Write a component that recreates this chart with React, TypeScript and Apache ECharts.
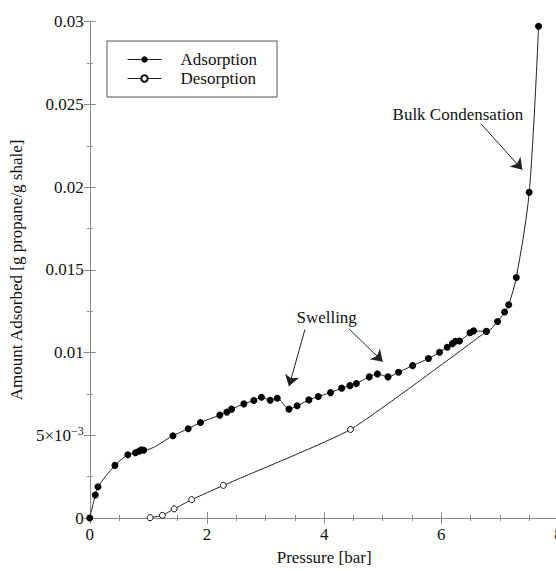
import React, { useEffect, useRef } from "react";
import * as echarts from "echarts";

const adsX = [0, 0.094, 0.14, 0.43, 0.65, 0.78, 0.84, 0.88, 0.92, 1.42, 1.68, 1.89, 2.22, 2.34, 2.42, 2.63, 2.8, 2.93, 3.08, 3.2, 3.4, 3.54, 3.74, 3.9, 4.11, 4.3, 4.44, 4.55, 4.77, 4.91, 5.09, 5.27, 5.51, 5.78, 5.97, 6.1, 6.19, 6.24, 6.31, 6.49, 6.55, 6.77, 6.96, 7.08, 7.15, 7.28, 7.5, 7.66];
const adsY = [0, 0.00139, 0.00189, 0.00318, 0.00382, 0.00394, 0.00403, 0.00413, 0.00409, 0.00497, 0.0054, 0.00577, 0.00622, 0.0064, 0.00658, 0.0069, 0.0071, 0.0073, 0.00712, 0.00724, 0.00658, 0.00678, 0.00714, 0.00734, 0.00758, 0.00785, 0.008, 0.00813, 0.00853, 0.00871, 0.00853, 0.00881, 0.00921, 0.00964, 0.01002, 0.01032, 0.01054, 0.01068, 0.0107, 0.0112, 0.01131, 0.01128, 0.01188, 0.01245, 0.01289, 0.01454, 0.01969, 0.02972];

const desX = [6.77, 4.45, 2.28, 1.74, 1.44, 1.24, 1.03];
const desY = [0.01128, 0.00535, 0.00197, 0.00111, 0.00055, 0.00016, 0.00002];

const seriesNames = ["Adsorption", "Desorption"];
const xTicks = { min: 0, max: 8, interval: 2 };
const yTicks = { min: 0, max: 0.03, interval: 0.005 };

const annotationTexts = ["Bulk Condensation", "Swelling"];
const annotationTextPos = [[6.284, 0.02439], [4.043, 0.01213]];
const arrowStarts = [[6.676, 0.02383], [3.673, 0.0114], [4.422, 0.01144]];
const arrowEnds = [[7.384, 0.02105], [3.401, 0.00796], [5.001, 0.00945]];

const FONT = "Liberation Serif";

function yLabel(v: number): string {
  if (v === 0) return "{a|0}";
  if (Math.abs(v - 0.005) < 1e-9) return "{a|5×10}{b|−3}";
  return "{a|" + String(+v.toFixed(4)) + "}";
}

export default function App() {
  const ref = useRef<HTMLDivElement>(null);
  useEffect(() => {
    if (!ref.current) return;
    const chart = echarts.init(ref.current, undefined, { renderer: "svg" });
    const axisColor = "#8a8a8a";
    const baseX = {
      type: "value",
      min: xTicks.min,
      max: xTicks.max,
      interval: xTicks.interval,
      axisLine: { show: true, lineStyle: { color: axisColor, width: 1 } },
      axisTick: { show: true, inside: true, length: 6, lineStyle: { color: axisColor } },
      minorTick: { show: true, splitNumber: 4, length: 3, lineStyle: { color: axisColor } },
      splitLine: { show: false },
    };
    const baseY = {
      type: "value",
      min: yTicks.min,
      max: yTicks.max,
      interval: yTicks.interval,
      axisLine: { show: true, lineStyle: { color: axisColor, width: 1 } },
      axisTick: { show: true, inside: true, length: 6, lineStyle: { color: axisColor } },
      minorTick: { show: true, splitNumber: 2, length: 3, lineStyle: { color: axisColor } },
      splitLine: { show: false },
    };
    chart.setOption({
      animation: false,
      backgroundColor: "#ffffff",
      textStyle: { fontFamily: FONT },
      grid: { left: 88.5, right: 41.5, top: 21.7, bottom: 46.7 },
      legend: {
        data: seriesNames,
        orient: "vertical",
        left: 107,
        top: 41,
        itemWidth: 34,
        itemHeight: 8,
        itemGap: 2,
        padding: [10, 20, 10, 20],
        borderColor: "#555",
        borderWidth: 1,
        backgroundColor: "#fff",
        lineStyle: { width: 1 },
        textStyle: { fontFamily: FONT, fontSize: 17, color: "#111", lineHeight: 17, padding: [0, 0, 0, 14] },
      },
      xAxis: [
        {
          ...baseX,
          position: "bottom",
          name: "Pressure [bar]",
          nameLocation: "middle",
          nameGap: 31,
          nameTextStyle: { fontFamily: FONT, fontSize: 17, color: "#111", verticalAlign: "top" },
          axisLabel: { show: true, margin: 8, fontFamily: FONT, fontSize: 17, color: "#111" },
        },
        { ...baseX, position: "top", axisLabel: { show: false } },
      ],
      yAxis: [
        {
          ...baseY,
          position: "left",
          name: "Amount Adsorbed [g propane/g shale]",
          nameLocation: "middle",
          nameGap: 62,
          nameTextStyle: { fontFamily: FONT, fontSize: 17, color: "#111" },
          axisLabel: {
            show: true,
            margin: 6,
            color: "#111",
            formatter: yLabel,
            rich: {
              a: { fontFamily: FONT, fontSize: 17, color: "#111", lineHeight: 20 },
              b: { fontFamily: FONT, fontSize: 12, color: "#111", verticalAlign: "top", lineHeight: 12 },
            },
          },
        },
        { ...baseY, position: "right", axisLabel: { show: false } },
      ],
      series: [
        {
          name: seriesNames[1],
          type: "line",
          xAxisIndex: 0,
          yAxisIndex: 0,
          data: desX.map((x, i) => [x, desY[i]]),
          smooth: 0.15,
          symbol: "circle",
          symbolSize: 6,
          itemStyle: { color: "#fff", borderColor: "#111", borderWidth: 1 },
          lineStyle: { color: "#222", width: 1 },
          z: 2,
        },
        {
          name: seriesNames[0],
          type: "line",
          xAxisIndex: 0,
          yAxisIndex: 0,
          data: adsX.map((x, i) => [x, adsY[i]]),
          smooth: 0.3,
          symbol: "circle",
          symbolSize: 7,
          itemStyle: { color: "#000", borderColor: "#000", borderWidth: 0 },
          lineStyle: { color: "#222", width: 1 },
          z: 3,
        },
        {
          name: "annotations",
          type: "line",
          xAxisIndex: 0,
          yAxisIndex: 0,
          data: [],
          silent: true,
          markLine: {
            silent: true,
            symbol: ["none", "arrow"],
            symbolSize: 11,
            label: { show: false },
            lineStyle: { color: "#222", width: 1, type: "solid" },
            emphasis: { disabled: true },
            data: arrowStarts.map((s, i) => [{ coord: s }, { coord: arrowEnds[i] }]),
          },
          markPoint: {
            silent: true,
            symbol: "circle",
            symbolSize: 0,
            label: {
              show: true,
              position: "inside",
              formatter: "{b}",
              fontFamily: FONT,
              fontSize: 17,
              color: "#111",
            },
            data: annotationTexts.map((t, i) => ({ name: t, coord: annotationTextPos[i] })),
          },
        },
      ],
    });
    return () => chart.dispose();
  }, []);
  return (
    <div style={{ position: "fixed", left: 0, top: 0, width: 556, height: 571, overflow: "hidden", background: "#fff" }}>
      <div ref={ref} style={{ width: 600, height: 571 }} />
    </div>
  );
}
